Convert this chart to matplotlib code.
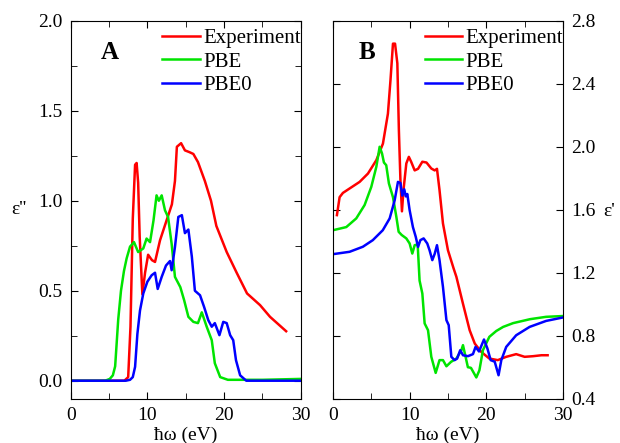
import matplotlib.pyplot as plt
from matplotlib.ticker import MultipleLocator

# panel A: imaginary part eps''
exp_a_x = [0, 7.0, 7.5, 7.8, 8.1, 8.4, 8.6, 8.8, 9.0, 9.35, 9.7, 10.1, 10.6, 11.0, 11.65, 12.5, 13.2, 13.6,
           13.85, 14.4, 14.9, 15.5, 16.0, 16.6, 17.5, 18.3, 19.0, 20.35, 21.65, 23.0, 24.7, 26.0, 28.1]
exp_a_y = [0, 0, 0.02, 0.3, 0.9, 1.2, 1.21, 1.1, 0.8, 0.48, 0.6, 0.70, 0.67, 0.66, 0.78, 0.89, 0.98, 1.11,
           1.30, 1.32, 1.28, 1.27, 1.26, 1.215, 1.11, 1.0, 0.86, 0.715, 0.60, 0.485, 0.42, 0.355, 0.275]

pbe_a_x = [0, 4.5, 5.1, 5.5, 5.8, 6.2, 6.56, 6.95, 7.3, 7.74, 8.26, 8.8, 9.47, 9.9, 10.35, 10.8, 11.2, 11.5,
           11.87, 12.3, 12.7, 13.17, 13.6, 14.3, 14.8, 15.35, 16.0, 16.6, 17.1, 17.74, 18.4, 18.8, 19.5, 20.5,
           25, 30]
pbe_a_y = [0, 0, 0.01, 0.03, 0.08, 0.34, 0.5, 0.61, 0.68, 0.745, 0.77, 0.715, 0.735, 0.79, 0.77, 0.89, 1.03, 1.0,
           1.03, 0.947, 0.91, 0.76, 0.577, 0.52, 0.447, 0.355, 0.327, 0.32, 0.38, 0.30, 0.225, 0.097, 0.02, 0.005,
           0.005, 0.01]

pbe0_a_x = [0, 7.2, 7.74, 8.1, 8.4, 8.7, 9.04, 9.47, 10.0, 10.56, 11.0, 11.35, 11.87, 12.43, 12.95, 13.17, 13.6,
            14.04, 14.5, 14.9, 15.35, 15.8, 16.2, 16.87, 17.4, 17.95, 18.4, 18.8, 19.4, 19.9, 20.35, 20.8, 21.2,
            21.56, 22.1, 22.9, 30]
pbe0_a_y = [0, 0, 0.005, 0.02, 0.077, 0.26, 0.39, 0.485, 0.55, 0.586, 0.60, 0.51, 0.577, 0.64, 0.665, 0.614, 0.743,
            0.91, 0.92, 0.82, 0.84, 0.69, 0.50, 0.475, 0.41, 0.336, 0.30, 0.32, 0.253, 0.327, 0.32, 0.253, 0.225,
            0.114, 0.03, 0.0, 0.0]

# panel B: real part eps'
exp_b_x = [0.52, 0.87, 1.3, 2.17, 3.48, 4.57, 5.66, 6.52, 7.17, 7.5, 7.83, 8.1, 8.4, 8.6, 8.8, 9.0, 9.2, 9.57,
           9.9, 10.2, 10.66, 11.1, 11.66, 12.2, 12.83, 13.27, 13.57, 13.9, 14.35, 15.0, 15.74, 16.1, 16.95, 17.83,
           18.5, 19.35, 20.4, 21.5, 22.6, 23.9, 25.0, 26.1, 27.2, 28.0]
exp_b_y = [1.566, 1.68, 1.707, 1.735, 1.777, 1.83, 1.915, 2.02, 2.21, 2.42, 2.655, 2.655, 2.53, 2.106, 1.79, 1.59,
           1.725, 1.894, 1.936, 1.905, 1.85, 1.86, 1.905, 1.9, 1.862, 1.85, 1.86, 1.725, 1.513, 1.343, 1.227, 1.174,
           1.005, 0.835, 0.75, 0.697, 0.655, 0.645, 0.666, 0.683, 0.666, 0.67, 0.676, 0.676]

pbe_b_x = [0, 1.74, 3.04, 4.13, 5.0, 5.66, 6.09, 6.4, 6.65, 6.95, 7.3, 7.83, 8.27, 8.57, 8.96, 9.57, 10.0, 10.35,
           10.66, 11.05, 11.3, 11.66, 11.96, 12.4, 12.83, 13.4, 13.9, 14.35, 14.8, 15.4, 16.1, 16.75, 16.96, 17.3,
           17.6, 18.0, 18.7, 19.1, 19.56, 20.4, 21.3, 22.2, 23.5, 25.7, 27.8, 30]
pbe_b_y = [1.47, 1.49, 1.545, 1.63, 1.745, 1.873, 2.0, 1.958, 1.9, 1.883, 1.767, 1.68, 1.555, 1.46, 1.44, 1.418,
           1.386, 1.322, 1.375, 1.38, 1.15, 1.068, 0.878, 0.835, 0.666, 0.564, 0.645, 0.645, 0.606, 0.634, 0.655,
           0.708, 0.74, 0.666, 0.60, 0.596, 0.535, 0.58, 0.708, 0.793, 0.83, 0.856, 0.88, 0.905, 0.92, 0.925]

pbe0_b_x = [0, 2.17, 3.9, 5.2, 6.5, 7.4, 8.05, 8.48, 8.8, 9.05, 9.3, 9.5, 9.7, 10.0, 10.43, 10.8, 11.1, 11.4,
            11.83, 12.3, 12.6, 12.96, 13.27, 13.57, 13.9, 14.35, 14.8, 15.1, 15.44, 15.87, 16.2, 16.6, 16.96, 17.6,
            18.26, 18.6, 19.05, 19.7, 20.14, 20.57, 21.1, 21.6, 21.96, 22.6, 23.9, 25.65, 27.8, 30]
pbe0_b_y = [1.318, 1.333, 1.365, 1.407, 1.47, 1.545, 1.66, 1.777, 1.77, 1.69, 1.73, 1.685, 1.70, 1.598, 1.49,
            1.428, 1.364, 1.407, 1.418, 1.386, 1.343, 1.28, 1.32, 1.375, 1.28, 1.11, 0.899, 0.867, 0.666, 0.645,
            0.655, 0.708, 0.676, 0.67, 0.683, 0.729, 0.70, 0.776, 0.72, 0.645, 0.635, 0.549, 0.645, 0.729, 0.803,
            0.856, 0.894, 0.916]

labels = ['Experiment', 'PBE', 'PBE0']
colors = ['#ff0000', '#00e400', '#0000ff']

plt.rcParams['font.family'] = ['Liberation Serif', 'DejaVu Serif']
plt.rcParams['font.size'] = 14

fig = plt.figure(figsize=(6.2, 4.43), dpi=100)
ax1 = fig.add_axes([0.114, 0.1, 0.371, 0.853])
ax2 = fig.add_axes([0.537, 0.1, 0.371, 0.853])

for x, y, lab, c in zip([exp_a_x, pbe_a_x, pbe0_a_x], [exp_a_y, pbe_a_y, pbe0_a_y], labels, colors):
    ax1.plot(x, y, color=c, lw=1.8, label=lab)
for x, y, lab, c in zip([exp_b_x, pbe_b_x, pbe0_b_x], [exp_b_y, pbe_b_y, pbe0_b_y], labels, colors):
    ax2.plot(x, y, color=c, lw=1.8, label=lab)

ax1.set_xlim(0, 30)
ax1.set_ylim(-0.1, 2.0)
ax1.xaxis.set_major_locator(MultipleLocator(10))
ax1.xaxis.set_minor_locator(MultipleLocator(5))
ax1.yaxis.set_major_locator(MultipleLocator(0.5))
ax1.yaxis.set_minor_locator(MultipleLocator(0.25))
ax1.yaxis.set_major_formatter(plt.FormatStrFormatter('%.1f'))
ax1.tick_params(which='both', direction='in', top=True, right=True)
ax1.tick_params(which='major', length=5, pad=6)
ax1.tick_params(which='minor', length=4)
ax1.set_ylabel("ε''", rotation=0, ha='center', va='center')
ax1.yaxis.set_label_coords(-0.225, 0.5)
ax1.set_xlabel('ħω (eV)', labelpad=2)
ax1.text(0.17, 0.915, 'A', transform=ax1.transAxes, fontsize=18, fontweight='bold', ha='center', va='center')

ax2.set_xlim(0, 30)
ax2.set_ylim(0.4, 2.8)
ax2.xaxis.set_major_locator(MultipleLocator(10))
ax2.xaxis.set_minor_locator(MultipleLocator(5))
ax2.yaxis.set_major_locator(MultipleLocator(0.4))
ax2.yaxis.set_major_formatter(plt.FormatStrFormatter('%.1f'))
ax2.yaxis.tick_right()
ax2.yaxis.set_label_position('right')
ax2.tick_params(which='both', direction='in', top=True, left=True, right=True)
ax2.tick_params(which='major', length=5, pad=6)
ax2.tick_params(which='minor', length=4)
ax2.set_ylabel("ε'", rotation=0, ha='center', va='center')
ax2.yaxis.set_label_coords(1.2, 0.495)
ax2.set_xlabel('ħω (eV)', labelpad=2)
ax2.text(0.15, 0.915, 'B', transform=ax2.transAxes, fontsize=18, fontweight='bold', ha='center', va='center')

for ax in (ax1, ax2):
    ax.legend(loc='upper right', bbox_to_anchor=(1.0, 0.98), frameon=False, fontsize=15,
              handlelength=1.8, handletextpad=0.15, labelspacing=0.2, borderaxespad=0.0, borderpad=0.0)

fig.savefig('out.png', dpi=100)
